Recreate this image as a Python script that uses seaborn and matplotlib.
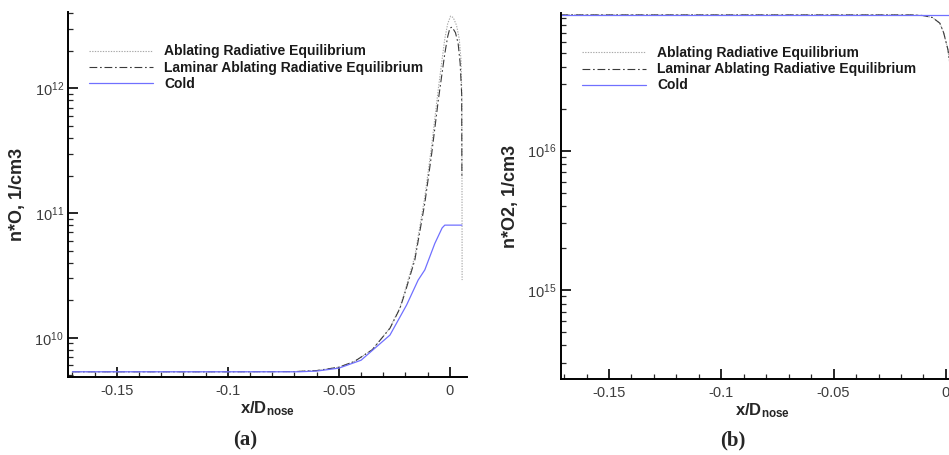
import numpy as np
import pandas as pd
import matplotlib
matplotlib.use("Agg")
import matplotlib.pyplot as plt
import matplotlib.ticker as mticker
import seaborn as sns

# ---------------- data ----------------
series_names = ["Ablating Radiative Equilibrium",
                "Laminar Ablating Radiative Equilibrium",
                "Cold"]

# Panel (a): n*O, 1/cm3
xa_abl = [-0.17, -0.10, -0.07, -0.06, -0.05, -0.043, -0.035, -0.027, -0.0225, -0.0203,
          -0.0158, -0.0113, -0.0082, -0.0052, -0.0023, -0.001, 0.0003, 0.0015,
          0.003, 0.0042, 0.005, 0.0054, 0.0055]
ya_abl = [5.33e9, 5.33e9, 5.35e9, 5.45e9, 5.8e9, 6.45e9, 8.0e9, 1.2e10, 1.75e10, 2.35e10,
          4.5e10, 1.35e11, 3.5e11, 1.0e12, 2.5e12, 3.3e12, 3.8e12, 3.7e12,
          3.2e12, 2.5e12, 1.7e12, 8.0e11, 2.9e10]
xa_lam = [-0.17, -0.10, -0.07, -0.06, -0.05, -0.043, -0.035, -0.027, -0.0225, -0.0203,
          -0.0158, -0.0113, -0.0082, -0.0052, -0.0023, -0.001, 0.0, 0.001, 0.0025,
          0.0037, 0.0046, 0.0053, 0.0054]
ya_lam = [5.33e9, 5.33e9, 5.35e9, 5.45e9, 5.8e9, 6.45e9, 8.0e9, 1.19e10, 1.72e10, 2.27e10,
          4.2e10, 1.2e11, 3.0e11, 8.1e11, 1.9e12, 2.6e12, 3.05e12, 3.1e12, 2.8e12,
          2.3e12, 1.6e12, 9.0e11, 2.0e11]
xa_cold = [-0.17, -0.10, -0.068, -0.06, -0.05, -0.04, -0.027, -0.0195, -0.0143, -0.0113,
           -0.0068, -0.0035, -0.0023, 0.0054]
ya_cold = [5.33e9, 5.33e9, 5.33e9, 5.4e9, 5.7e9, 6.6e9, 1.05e10, 1.83e10, 2.9e10, 3.5e10,
           5.7e10, 7.6e10, 8.0e10, 8.0e10]

# Panel (b): n*O2, 1/cm3
xb_abl = [-0.1715, -0.015, -0.0102, -0.006, -0.0027, -0.001, 0.0009, 0.003, 0.005]
yb_abl = [9.4e16, 9.4e16, 9.3e16, 9.0e16, 8.2e16, 7.0e16, 5.3e16, 3.0e16, 1.5e16]
xb_lam = [-0.1715, -0.015, -0.0102, -0.006, -0.0027, -0.001, 0.0009, 0.003, 0.005]
yb_lam = [9.4e16, 9.4e16, 9.3e16, 9.0e16, 8.2e16, 7.0e16, 5.3e16, 3.0e16, 1.5e16]
xb_cold = [-0.1715, 0.0077]
yb_cold = [9.4e16, 9.4e16]

xticks = [-0.15, -0.1, -0.05, 0.0]
xtick_labels = ["-0.15", "-0.1", "-0.05", "0"]

# ---------------- style ----------------
sns.set_style("ticks")
plt.rcParams['font.family'] = ['Liberation Sans', 'DejaVu Sans']
plt.rcParams['mathtext.fontset'] = 'custom'
plt.rcParams['mathtext.rm'] = 'Liberation Sans'
plt.rcParams['mathtext.it'] = 'Liberation Sans:italic'
plt.rcParams['mathtext.bf'] = 'Liberation Sans:bold'
plt.rcParams['axes.unicode_minus'] = False

W, H = 949, 455
fig = plt.figure(figsize=(W / 100, H / 100), dpi=100)

styles = {
    series_names[0]: dict(color="#a8a8a8", lw=0.8, ls=(0, (1.2, 1.2))),
    series_names[1]: dict(color="#3a3a3a", lw=0.8, ls=(0, (7, 2.5, 1.5, 2.5))),
    series_names[2]: dict(color="#7070ff", lw=0.9, ls="-"),
}


def panel(rect, xlim, ylim, data, ylabel, ylab_x, leg_y, caption, cap_x):
    ax = fig.add_axes(rect)
    for name, (xs, ys) in zip(series_names, data):
        df = pd.DataFrame({"x": xs, "y": ys})
        st = styles[name]
        sns.lineplot(data=df, x="x", y="y", ax=ax, sort=False, estimator=None,
                     color=st["color"], linewidth=st["lw"], linestyle=st["ls"], label=name)
    ax.set_yscale("log")
    ax.set_xlim(*xlim)
    ax.set_ylim(*ylim)
    for s in ["top", "right"]:
        ax.spines[s].set_visible(False)
    for s in ["left", "bottom"]:
        ax.spines[s].set_linewidth(1.4)
        ax.spines[s].set_color("black")
    ax.set_xticks(xticks)
    ax.set_xticklabels(xtick_labels)
    ax.xaxis.set_minor_locator(mticker.MultipleLocator(0.01))
    ax.yaxis.set_major_locator(mticker.LogLocator(base=10, numticks=20))
    ax.yaxis.set_minor_locator(mticker.LogLocator(base=10, subs=np.arange(2, 10), numticks=20))
    ax.yaxis.set_minor_formatter(mticker.NullFormatter())
    ax.tick_params(which="major", direction="in", length=7, width=1.4, labelsize=10.5,
                   labelcolor="#3c3c3c")
    ax.tick_params(axis="x", which="major", pad=5)
    ax.tick_params(axis="y", which="major", pad=3)
    ax.tick_params(which="minor", direction="in", length=3.5, width=0.9)
    ax.set_xlabel(r"$\mathbf{x/D_{nose}}$", fontsize=12, labelpad=1)
    ax.set_ylabel(ylabel, fontsize=13, fontweight="bold")
    ax.yaxis.set_label_coords(ylab_x, 0.5)
    leg = ax.legend(loc="upper left", bbox_to_anchor=(0.053, leg_y), frameon=False,
                    prop={"weight": "bold", "size": 10}, borderpad=0,
                    borderaxespad=0, handlelength=4.6, handletextpad=0.8, labelspacing=0.15)
    for t in leg.get_texts():
        t.set_color("#1a1a1a")
    fig.text(cap_x, 1 - 440 / H, caption, fontsize=15, fontweight="bold",
             family=["Liberation Serif", "DejaVu Serif"], ha="center", va="center")
    return ax


ax_a = panel([68 / W, 1 - 377 / H, (467 - 68) / W, (377 - 12) / H],
             (-0.172, 0.0077), (4.84e9, 4.1e12),
             [(xa_abl, ya_abl), (xa_lam, ya_lam), (xa_cold, ya_cold)],
             "n*O, 1/cm3", -0.105, 0.911, "(a)", 245 / W)

ax_b = panel([560.7 / W, 1 - 379 / H, (963.2 - 560.7) / W, (379 - 13) / H],
             (-0.1715, 0.0077), (2.3e14, 9.7e16),
             [(xb_abl, yb_abl), (xb_lam, yb_lam), (xb_cold, yb_cold)],
             "n*O2, 1/cm3", -0.104, 0.909, "(b)", 733 / W)

fig.savefig("out.png", dpi=100)
